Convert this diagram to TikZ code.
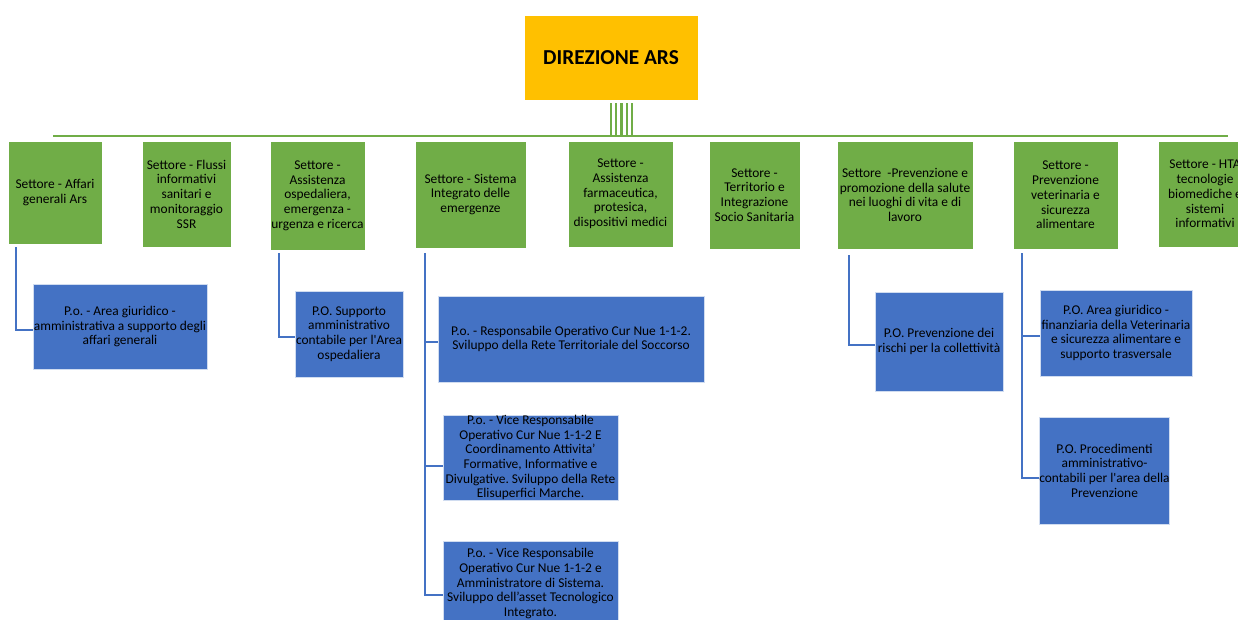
\documentclass[tikz,border=0pt]{standalone}
\usepackage{fontspec}
\setmainfont{Carlito}
\frenchspacing

\definecolor{arsgreen}{HTML}{70AD47}
\definecolor{arsblue}{HTML}{4472C4}
\definecolor{arsgold}{HTML}{FFC000}

\tikzset{
  box/.style={align=center, inner sep=0pt, line width=0.7pt,
    font=\fontsize{13.4}{14.7}\selectfont},
  direzione/.style={box, fill=arsgold, draw=white, font=\fontsize{21.3}{24}\bfseries},
  settore/.style={box, fill=arsgreen, draw=white},
  po/.style={box, fill=arsblue, draw=white!75!arsblue},
  ramo/.style={draw=arsblue, line width=2.2pt},
  tronco/.style={draw=arsgreen, line width=2.8pt}
}

\begin{document}
\begin{tikzpicture}[x=1pt, y=-1pt]
\useasboundingbox (0,0) rectangle (1238,619);
\clip (0,0) rectangle (1238,619);

   \node[direzione, minimum width=174pt, minimum height=85pt] at (611,57.5) (ars) {DIREZIONE ARS};

   % settori
   \node[settore, minimum width=94pt,  minimum height=103pt] at (55,192.5)   (affari) {Settore - Affari\\generali Ars};
   \node[settore, minimum width=89pt,  minimum height=106pt] at (186.5,194)  (flussi) {Settore - Flussi\\informativi\\sanitari e\\monitoraggio\\SSR};
   \node[settore, minimum width=95pt,  minimum height=109pt] at (317.5,195.5) (ospedal) {Settore -\\Assistenza\\ospedaliera,\\emergenza -\\urgenza e ricerca};
   \node[settore, minimum width=111pt, minimum height=107pt] at (470.5,194.5) (emerg) {Settore - Sistema\\Integrato delle\\emergenze};
   \node[settore, minimum width=105pt, minimum height=106pt] at (620.5,194)  (farma) {Settore -\\Assistenza\\farmaceutica,\\protesica,\\dispositivi medici};
   \node[settore, minimum width=91pt,  minimum height=108pt] at (754.5,195)  (territ) {Settore -\\Territorio e\\Integrazione\\Socio Sanitaria};
   \node[settore, minimum width=136pt, minimum height=108pt] at (905,195)    (prev) {Settore ~-Prevenzione e\\promozione della salute\\nei luoghi di vita e di\\lavoro};
   \node[settore, minimum width=105pt, minimum height=108pt] at (1065.5,195) (veter) {Settore -\\Prevenzione\\veterinaria e\\sicurezza\\alimentare};
   \node[settore, minimum width=94pt,  minimum height=106pt] at (1205,194)   (hta) {Settore - HTA\\tecnologie\\biomediche e\\sistemi\\informativi};

   % P.O.
   \node[po, minimum width=174pt, minimum height=85pt] at (120,326.5)  (poAffari) {P.o. - Area giuridico -\\amministrativa a supporto degli\\affari generali};
   \node[po, minimum width=108pt, minimum height=86pt] at (349,334)    (poOsp) {P.O. Supporto\\amministrativo\\contabile per l\textquotesingle Area\\ospedaliera};
   \node[po, minimum width=266pt, minimum height=86pt] at (571,339)    (poEmA) {P.o. - Responsabile Operativo Cur Nue 1-1-2.\\Sviluppo della Rete Territoriale del Soccorso};
   \node[po, minimum width=175pt, minimum height=85pt] at (530.5,457.5) (poEmB) {P.o. - Vice Responsabile\\Operativo Cur Nue 1-1-2 E\\Coordinamento Attivita’\\Formative, Informative e\\Divulgative. Sviluppo della Rete\\Elisuperfici Marche.};
   \node[po, minimum width=175pt, minimum height=85pt] at (530.5,583.5) (poEmC) {P.o. - Vice Responsabile\\Operativo Cur Nue 1-1-2 e\\Amministratore di Sistema.\\Sviluppo dell’asset Tecnologico\\Integrato.};
   \node[po, minimum width=128pt, minimum height=99pt] at (939,341.5)  (poPrev) {P.O. Prevenzione dei\\rischi per la collettività};
   \node[po, minimum width=152pt, minimum height=86pt] at (1116,333)   (poVetA) {P.O. Area giuridico -\\finanziaria della Veterinaria\\e sicurezza alimentare e\\supporto trasversale};
   \node[po, minimum width=129pt, minimum height=107pt] at (1104.5,470.5) (poVetB) {P.O. Procedimenti\\amministrativo-\\contabili per l\textquotesingle area della\\Prevenzione};

   % linee verdi
   \coordinate (barL) at (53,136);
   \coordinate (barR) at (1228,136);
   \draw[tronco] (barL) -- (barR);
   \foreach \dx in {0,5.3,10.6,15.9,21.2}
     \draw[arsgreen, line width=2.3pt] ([xshift=\dx pt, yshift=-3pt]ars.south) -- ([xshift=\dx pt]ars.south |- barL);

   % linee blu
   \draw[ramo] ([xshift=8pt, yshift=-3pt]affari.south west) |- ([yshift=-3.5pt]poAffari.west);
   \draw[ramo] ([xshift=9pt, yshift=-3pt]ospedal.south west) |- ([yshift=-3pt]poOsp.west);
   \draw[ramo] ([xshift=10pt, yshift=-5pt]emerg.south west) |- ([yshift=-3pt]poEmA.west);
   \draw[ramo] ([xshift=10pt, yshift=-5pt]emerg.south west) |- ([yshift=-8.5pt]poEmB.west);
   \draw[ramo] ([xshift=10pt, yshift=-5pt]emerg.south west) |- ([yshift=-11.5pt]poEmC.west);
   \draw[ramo] ([xshift=12pt, yshift=-6pt]prev.south west) |- ([yshift=-3.5pt]poPrev.west);
   \draw[ramo] ([xshift=9pt, yshift=-4pt]veter.south west) |- ([yshift=-3pt]poVetA.west);
   \draw[ramo] ([xshift=9pt, yshift=-4pt]veter.south west) |- ([yshift=-7.5pt]poVetB.west);

\end{tikzpicture}
\end{document}
